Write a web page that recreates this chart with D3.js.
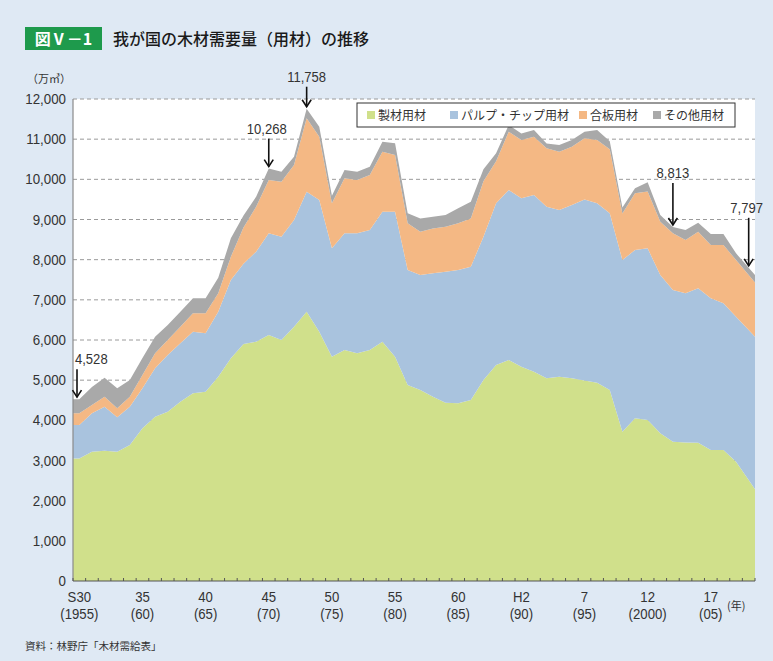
<!DOCTYPE html>
<html><head><meta charset="utf-8">
<script src="https://cdn.jsdelivr.net/npm/d3@7"></script>
<style>
html,body{margin:0;padding:0;background:#dfe9f4;}
svg{display:block;}
</style></head>
<body>
<svg id="chart" width="773" height="661"></svg>
<script>
// ---- data (万㎥) ----
const years = d3.range(1955, 2009);
const seizai = [3050,3220,3240,3220,3386,3800,4091,4215,4465,4672,4714,5087,5543,5900,5957,6124,6000,6331,6705,6207,5584,5751,5668,5751,5957,5584,4879,4755,4589,4440,4423,4506,5004,5377,5502,5336,5211,5045,5087,5045,4990,4938,4755,3718,4050,4008,3676,3469,3450,3440,3261,3261,2970,2514];
const pulp   = [833,954,1100,855,954,997,1204,1411,1451,1535,1451,1618,1950,2000,2241,2532,2571,2656,2986,3278,2698,2905,2988,2987,3237,3610,2863,2863,3070,3260,3319,3318,3567,4025,4232,4190,4398,4274,4149,4315,4510,4464,4398,4273,4190,4274,3942,3775,3711,3846,3776,3652,3610,3734];
const gouban = [291,207,249,224,249,331,373,374,415,457,499,457,580,900,1121,1327,1370,1369,1827,1576,1120,1368,1327,1369,1494,1411,1163,1079,1120,1121,1162,1204,1379,1048,1452,1452,1453,1452,1452,1453,1520,1578,1597,1159,1411,1418,1328,1411,1328,1411,1327,1451,1411,1370];
const sonota = [354,449,474,498,415,424,415,373,374,373,373,389,459,300,249,285,249,208,240,249,188,208,207,208,249,291,248,331,291,290,373,415,300,200,166,166,165,124,166,165,166,250,200,150,124,226,165,158,249,224,274,274,166,179];
const seriesNames = ["製材用材","パルプ・チップ用材","合板用材","その他用材"];
const seriesColors = ["#d0e08b","#a9c3de","#f4b884","#a9a9a9"];
const yTicks = [0,1000,2000,3000,4000,5000,6000,7000,8000,9000,10000,11000,12000];
const xLabelYears = [1955,1960,1965,1970,1975,1980,1985,1990,1995,2000,2005];
const xLabelTop = ["S30","35","40","45","50","55","60","H2","7","12","17"];
const xLabelBottom = ["(1955)","(60)","(65)","(70)","(75)","(80)","(85)","(90)","(95)","(2000)","(05)"];
const callouts = [
  {year:1955, value:4528, label:"4,528"},
  {year:1970, value:10268, label:"10,268"},
  {year:1973, value:11758, label:"11,758"},
  {year:2002, value:8813, label:"8,813"},
  {year:2008, value:7797, label:"7,797"}
];

const svg = d3.select("#chart");
const L = 73, R = 755, T = 99, B = 581;
const latin = "'Liberation Sans Narrow','Liberation Sans',Arial,sans-serif";
const cjk = "'Noto Sans CJK JP','Noto Sans CJK SC',sans-serif";
const narrow = (sel, cxp, cyp) => sel; // placeholder

// title
svg.append("rect").attr("x",25).attr("y",27).attr("width",77).attr("height",23).attr("fill","#1e9a4c");
svg.append("text").attr("x",63.5).attr("y",45).attr("text-anchor","middle")
  .attr("fill","#fff").attr("font-family",cjk).attr("font-weight","bold").attr("font-size",16).text("図Ⅴ－1");
svg.append("text").attr("x",113).attr("y",45).attr("fill","#1a1a1a")
  .attr("font-family",cjk).attr("font-weight","500").attr("font-size",16).text("我が国の木材需要量（用材）の推移");

// plot background
svg.append("rect").attr("x",L).attr("y",T).attr("width",R-L).attr("height",B-T).attr("fill","#fff");

const x = d3.scaleBand().domain(years).range([L,R]).padding(0);
const y = d3.scaleLinear().domain([0,12000]).range([B,T]);
const cx = yr => x(yr) + x.bandwidth()/2;

// gridlines
svg.append("g").selectAll("line").data(yTicks.filter(d=>d>0)).join("line")
  .attr("x1",L).attr("x2",R).attr("y1",d=>y(d)).attr("y2",d=>y(d))
  .attr("stroke","#9a9a9a").attr("stroke-width",1).attr("stroke-dasharray","4,3");

// stacked areas
const table = years.map((yr,i)=>({year:yr, s0:seizai[i], s1:pulp[i], s2:gouban[i], s3:sonota[i]}));
const stack = d3.stack().keys(["s0","s1","s2","s3"]);
const layers = stack(table);
const area = d3.area().x(d=>d.x).y0(d=>y(d.y0)).y1(d=>y(d.y1)).curve(d3.curveLinear);
layers.forEach((layer,k)=>{
  const pts = layer.map(d=>({x:cx(d.data.year), y0:d[0], y1:d[1]}));
  const n = layer.length;
  const first = {x:L, y0:layer[0][0], y1:layer[0][1]};
  const a = layer[n-2], b = layer[n-1];
  const last = {x:R, y0:b[0]+(b[0]-a[0])*0.5, y1:b[1]+(b[1]-a[1])*0.5};
  svg.append("path").datum([first,...pts,last]).attr("d",area).attr("fill",seriesColors[k]);
});

// left axis line
svg.append("line").attr("x1",L).attr("x2",L).attr("y1",T).attr("y2",B).attr("stroke","#8a8a8a").attr("stroke-width",1.2);

// y labels (slightly condensed)
svg.append("g").selectAll("text").data(yTicks).join("text")
  .attr("transform",d=>`translate(66,${y(d)+5}) scale(0.92,1)`)
  .attr("text-anchor","end")
  .attr("font-family",latin).attr("font-size",14.5).attr("fill","#333")
  .text(d=>d3.format(",")(d));
svg.append("text").attr("x",27).attr("y",83).attr("font-family",cjk).attr("font-size",11).attr("fill","#333").text("（万㎥）");

// x axis
svg.append("line").attr("x1",L).attr("x2",R).attr("y1",B).attr("y2",B).attr("stroke","#555").attr("stroke-width",1.2);
const edges = years.map(yr=>x(yr)).concat([R]);
svg.append("g").selectAll("line").data(edges).join("line")
  .attr("x1",d=>d).attr("x2",d=>d).attr("y1",B).attr("y2",B-3).attr("stroke","#555");
const xl = svg.append("g").selectAll("g").data(xLabelYears).join("g")
  .attr("transform",d=>`translate(${cx(d)},0) scale(0.85,1)`);
xl.append("text").attr("y",602).attr("text-anchor","middle").attr("font-family",latin).attr("font-size",15.5).attr("fill","#333")
  .text((d,i)=>xLabelTop[i]);
xl.append("text").attr("y",619).attr("text-anchor","middle").attr("font-family",latin).attr("font-size",15.5).attr("fill","#333")
  .text((d,i)=>xLabelBottom[i]);
svg.append("text").attr("x",727).attr("y",610).attr("font-family",cjk).attr("font-size",11).attr("fill","#333").text("(年)");

// callouts
const cg = svg.append("g");
callouts.forEach(c=>{
  const xx = c.year===1955 ? L+4 : cx(c.year);
  const top = y(c.value);
  const len = c.year===1973 ? 20 : (c.year===2002 ? 42 : (c.year===2008 ? 48 : 28));
  const y1 = top - len - 2, y2 = top - 2;
  cg.append("line").attr("x1",xx).attr("x2",xx).attr("y1",y1).attr("y2",y2).attr("stroke","#111").attr("stroke-width",1.6);
  cg.append("path").attr("d",`M${xx-4.5},${y2-7}L${xx},${y2}L${xx+4.5},${y2-7}`).attr("fill","none").attr("stroke","#111").attr("stroke-width",1.6);
  const anchor = c.year===1955 ? "start" : "middle";
  const tx = c.year===1955 ? L+2 : (c.year===2008 ? xx-2 : (c.year===1970 ? xx-2 : xx));
  cg.append("text").attr("transform",`translate(${tx},${y1-5}) scale(0.9,1)`).attr("text-anchor",anchor)
    .attr("font-family",latin).attr("font-size",14.5).attr("fill","#333").text(c.label);
});

// legend
const lg = svg.append("g");
lg.append("rect").attr("x",357).attr("y",103).attr("width",378).attr("height",24).attr("fill","#fff").attr("stroke","#333").attr("stroke-width",1);
const legX = [367,450,579,653];
seriesNames.forEach((nm,i)=>{
  lg.append("rect").attr("x",legX[i]).attr("y",111).attr("width",8).attr("height",8).attr("fill",seriesColors[i]);
  lg.append("text").attr("x",legX[i]+11).attr("y",120).attr("font-family",cjk).attr("font-size",12).attr("fill","#333").text(nm);
});

// source
svg.append("text").attr("x",25).attr("y",650).attr("font-family",cjk).attr("font-size",10.5).attr("fill","#333").text("資料：林野庁「木材需給表」");
</script>
</body></html>
